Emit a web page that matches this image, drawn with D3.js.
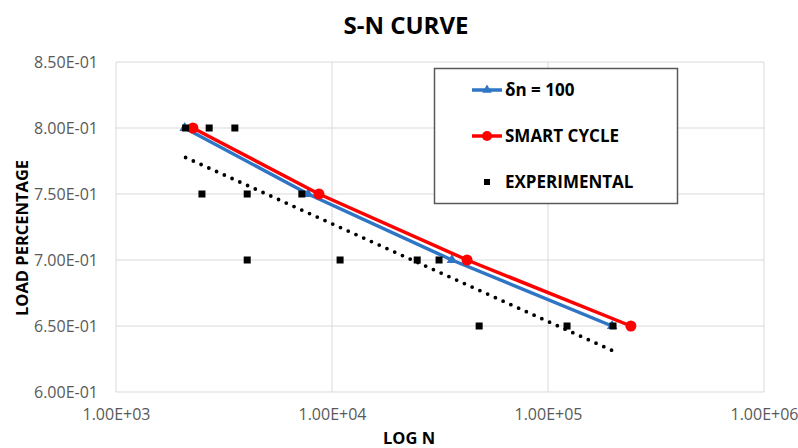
<!DOCTYPE html>
<html>
<head>
<meta charset="utf-8">
<script src="https://cdn.jsdelivr.net/npm/d3@7"></script>
<style>
	body { margin: 0; background: #ffffff; }
	svg { display: block; font-family: "Open Sans", sans-serif; }
</style>
</head>
<body>
<div id="chart"></div>
<script>

//load levels shared by both simulated curves
var loadLevels = [0.80, 0.75, 0.70, 0.65];

//cycles to failure, delta n = 100
var cyclesDeltaN = [2080, 7750, 35900, 198000];

//cycles to failure, smart cycle
var cyclesSmart = [2270, 8700, 42200, 242000];

//experimental points
var expCycles = [2100, 2700, 3550, 2500, 4050, 7250, 4050, 10900, 24800, 31300, 48000, 122500, 200000];
var expLoads = [0.80, 0.80, 0.80, 0.75, 0.75, 0.75, 0.70, 0.70, 0.70, 0.70, 0.65, 0.65, 0.65];

var xTicks = [1e3, 1e4, 1e5, 1e6];
var yTicks = [0.60, 0.65, 0.70, 0.75, 0.80, 0.85];

var legendNames = ["\u03b4n = 100", "SMART CYCLE", "EXPERIMENTAL"];

function Chart(frame_id)
{
	var self = this;

	self.width = 798;
	self.height = 448;
	self.margin = {left: 116, right: 34, top: 62, bottom: 56};

	self.svg = d3.select("#" + frame_id)
		.append("svg")
			.attr("width", self.width)
			.attr("height", self.height);

	self.x = d3.scaleLog()
		.domain([1e3, 1e6])
		.range([self.margin.left, self.width - self.margin.right]);

	self.y = d3.scaleLinear()
		.domain([0.60, 0.85])
		.range([self.height - self.margin.bottom, self.margin.top]);

	self.drawGrid();
	self.drawSeries();
	self.drawLegend();
	self.drawTitles();
}

//excel style scientific label, e.g. 1.00E+03
Chart.prototype.sci = function(v)
{
	var parts = v.toExponential(2).split("e");
	var exp = parseInt(parts[1], 10);
	var sign = exp < 0 ? "-" : "+";
	return parts[0] + "E" + sign + (Math.abs(exp) < 10 ? "0" : "") + Math.abs(exp);
};

Chart.prototype.drawGrid = function()
{
	var self = this;
	var x0 = self.x.range()[0], x1 = self.x.range()[1];
	var y0 = self.y.range()[0], y1 = self.y.range()[1];

	var grid = self.svg.append("g").attr("class", "grid");

	grid.selectAll(".hline")
		.data(yTicks)
		.enter()
			.append("line")
				.attr("x1", x0)
				.attr("x2", x1)
				.attr("y1", function(d){ return self.y(d); })
				.attr("y2", function(d){ return self.y(d); })
				.attr("stroke", "#d9d9d9")
				.attr("stroke-width", 1);

	grid.selectAll(".vline")
		.data(xTicks)
		.enter()
			.append("line")
				.attr("y1", y0)
				.attr("y2", y1)
				.attr("x1", function(d){ return self.x(d); })
				.attr("x2", function(d){ return self.x(d); })
				.attr("stroke", "#d9d9d9")
				.attr("stroke-width", 1);

	//axes with labels only, lines come from the grid
	var xAxis = d3.axisBottom(self.x)
		.tickValues(xTicks)
		.tickFormat(function(d){ return self.sci(d); })
		.tickSize(0)
		.tickPadding(17);

	var yAxis = d3.axisLeft(self.y)
		.tickValues(yTicks)
		.tickFormat(function(d){ return self.sci(d); })
		.tickSize(0)
		.tickPadding(18);

	var gx = self.svg.append("g")
		.attr("transform", "translate(0," + y0 + ")")
		.call(xAxis);

	var gy = self.svg.append("g")
		.attr("transform", "translate(" + x0 + ",0)")
		.call(yAxis);

	[gx, gy].forEach(function(g)
		{
			g.select(".domain").remove();
			g.selectAll("text")
				.attr("font-family", "'Open Sans', sans-serif")
				.attr("font-size", 16)
				.attr("fill", "#595959");
		}
	);
};

Chart.prototype.drawSeries = function()
{
	var self = this;

	var lineGen = d3.line()
		.x(function(d){ return self.x(d[0]); })
		.y(function(d){ return self.y(d[1]); });

	var blue = cyclesDeltaN.map(function(c, i){ return [c, loadLevels[i]]; });
	var red = cyclesSmart.map(function(c, i){ return [c, loadLevels[i]]; });
	var exp = expCycles.map(function(c, i){ return [c, expLoads[i]]; });

	//log trendline of the experimental data, like excel does
	var lx = exp.map(function(d){ return Math.log10(d[0]); });
	var mx = d3.mean(lx);
	var my = d3.mean(exp, function(d){ return d[1]; });
	var sxy = d3.sum(exp, function(d, i){ return (lx[i] - mx) * (d[1] - my); });
	var sxx = d3.sum(lx, function(v){ return (v - mx) * (v - mx); });
	var slope = sxy / sxx;
	var ext = d3.extent(expCycles);
	var trend = ext.map(function(c){ return [c, my + slope * (Math.log10(c) - mx)]; });

	self.svg.append("path")
		.attr("d", lineGen(blue))
		.attr("fill", "none")
		.attr("stroke", "#2e75c6")
		.attr("stroke-width", 3.5);

	self.svg.selectAll(".tri")
		.data(blue)
		.enter()
			.append("path")
				.attr("d", d3.symbol().type(d3.symbolTriangle).size(48))
				.attr("transform", function(d){ return "translate(" + self.x(d[0]) + "," + self.y(d[1]) + ")"; })
				.attr("fill", "#2e75c6");

	self.svg.append("path")
		.attr("d", lineGen(red))
		.attr("fill", "none")
		.attr("stroke", "#ff0000")
		.attr("stroke-width", 3.5);

	self.svg.selectAll(".dot")
		.data(red)
		.enter()
			.append("circle")
				.attr("cx", function(d){ return self.x(d[0]); })
				.attr("cy", function(d){ return self.y(d[1]); })
				.attr("r", 5.5)
				.attr("fill", "#ff0000");

	self.svg.selectAll(".sq")
		.data(exp)
		.enter()
			.append("rect")
				.attr("x", function(d){ return self.x(d[0]) - 3.5; })
				.attr("y", function(d){ return self.y(d[1]) - 3.5; })
				.attr("width", 7)
				.attr("height", 7)
				.attr("fill", "#000000");

	self.svg.append("path")
		.attr("d", lineGen(trend))
		.attr("fill", "none")
		.attr("stroke", "#000000")
		.attr("stroke-width", 3.8)
		.attr("stroke-linecap", "round")
		.attr("stroke-dasharray", "0 8.5");
};

Chart.prototype.drawLegend = function()
{
	var self = this;

	var g = self.svg.append("g").attr("class", "legend");

	g.append("rect")
		.attr("x", 434.5)
		.attr("y", 68.5)
		.attr("width", 243)
		.attr("height", 135)
		.attr("fill", "#ffffff")
		.attr("stroke", "#595959")
		.attr("stroke-width", 1.5);

	var rowY = [90, 136, 182];

	//delta n entry
	g.append("line")
		.attr("x1", 472).attr("x2", 502)
		.attr("y1", rowY[0]).attr("y2", rowY[0])
		.attr("stroke", "#2e75c6")
		.attr("stroke-width", 3.5);
	g.append("path")
		.attr("d", d3.symbol().type(d3.symbolTriangle).size(40))
		.attr("transform", "translate(487," + rowY[0] + ")")
		.attr("fill", "#2e75c6");

	//smart cycle entry
	g.append("line")
		.attr("x1", 472).attr("x2", 502)
		.attr("y1", rowY[1]).attr("y2", rowY[1])
		.attr("stroke", "#ff0000")
		.attr("stroke-width", 3.5);
	g.append("circle")
		.attr("cx", 487).attr("cy", rowY[1])
		.attr("r", 5)
		.attr("fill", "#ff0000");

	//experimental entry
	g.append("rect")
		.attr("x", 484).attr("y", rowY[2] - 3)
		.attr("width", 6).attr("height", 6)
		.attr("fill", "#000000");

	g.selectAll(".ltext")
		.data(legendNames)
		.enter()
			.append("text")
				.attr("x", 505)
				.attr("y", function(d, i){ return rowY[i] + 6; })
				.attr("font-size", 17)
				.attr("font-weight", "bold")
				.attr("fill", "#000000")
				.text(function(d){ return d; });
};

Chart.prototype.drawTitles = function()
{
	var self = this;

	self.svg.append("text")
		.attr("x", 406)
		.attr("y", 34)
		.attr("text-anchor", "middle")
		.attr("font-size", 24)
		.attr("font-weight", "bold")
		.attr("fill", "#000000")
		.text("S-N CURVE");

	self.svg.append("text")
		.attr("x", 409)
		.attr("y", 444)
		.attr("text-anchor", "middle")
		.attr("font-size", 16.5)
		.attr("font-weight", "bold")
		.attr("fill", "#000000")
		.text("LOG N");

	self.svg.append("text")
		.attr("transform", "translate(28,238) rotate(-90)")
		.attr("text-anchor", "middle")
		.attr("font-size", 16.5)
		.attr("font-weight", "bold")
		.attr("fill", "#000000")
		.text("LOAD PERCENTAGE");
};

var chart_1 = new Chart("chart");

</script>
</body>
</html>
